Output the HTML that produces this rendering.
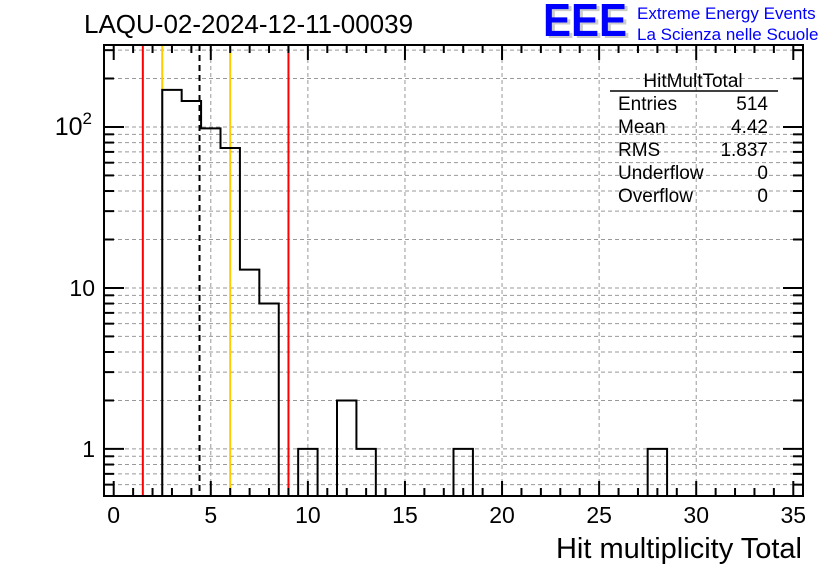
<!DOCTYPE html>
<html><head><meta charset="utf-8"><style>
body{margin:0;background:#fff;}
svg{display:block;font-family:"Liberation Sans",sans-serif;}
</style></head><body>
<svg id="c" width="836" height="572">
<text x="84" y="33" font-size="26">LAQU-02-2024-12-11-00039</text>
<g>
<text x="546" y="38" font-size="46" font-weight="bold" fill="#ccc" textLength="84" lengthAdjust="spacingAndGlyphs">EEE</text>
<text x="543" y="36" font-size="46" font-weight="bold" fill="#0000ff" textLength="84" lengthAdjust="spacingAndGlyphs">EEE</text>
<text x="637" y="19" font-size="17" fill="#0000ff">Extreme Energy Events</text>
<text x="637" y="40" font-size="17" fill="#0000ff">La Scienza nelle Scuole</text>
</g>
<g id="grid"></g>
<g id="marks"></g>
<rect x="104" y="45" width="699" height="451" fill="none" stroke="#000" stroke-width="2"/>
<g id="axes"></g>
<text x="802" y="558" font-size="29" text-anchor="end">Hit multiplicity Total</text>
<g font-size="19">
<text x="693" y="87" text-anchor="middle">HitMultTotal</text>
<line x1="610" y1="91" x2="778" y2="91" stroke="#000" stroke-width="1.5"/>
<text x="618" y="110">Entries</text><text x="768" y="110" text-anchor="end">514</text>
<text x="618" y="133">Mean</text><text x="768" y="133" text-anchor="end">4.42</text>
<text x="618" y="156">RMS</text><text x="768" y="156" text-anchor="end">1.837</text>
<text x="618" y="179">Underflow</text><text x="768" y="179" text-anchor="end">0</text>
<text x="618" y="202">Overflow</text><text x="768" y="202" text-anchor="end">0</text>
</g>
</svg>
<script>
const binCenters=[3,4,5,6,7,8,9,10,11,12,13,14,15,16,17,18,19,20,21,22,23,24,25,26,27,28,29];
const counts=[170,145,98,74,13,8,0,1,0,2,1,0,0,0,0,1,0,0,0,0,0,0,0,0,0,1,0];
const xTicks=[0,5,10,15,20,25,30,35];
const yTickVals=[1,10,100];
const yTickLabels=["1","10","10²"];
const redLines=[1.5,9.0];
const orangeLines=[2.5,6.0];
const meanLine=[4.42];
const NS="http://www.w3.org/2000/svg";
const X0=104,X1=803,Y0=45,Y1=496,xmin=-0.5,xmax=35.5,ymin=Math.log10(0.51),ymax=Math.log10(323);
const sx=v=>X0+(v-xmin)/(xmax-xmin)*(X1-X0);
const sy=v=>Y1-(Math.log10(v)-ymin)/(ymax-ymin)*(Y1-Y0);
function mk(t,a,p){const e=document.createElementNS(NS,t);for(const k in a)e.setAttribute(k,a[k]);p.appendChild(e);return e;}
const grid=document.getElementById('grid'),marks=document.getElementById('marks'),axes=document.getElementById('axes');
for(const t of xTicks){if(t<=0||t>=35)continue;const l=mk('line',{x1:sx(t),x2:sx(t),y1:Y0,y2:Y1,stroke:'#999','stroke-dasharray':'4,3','stroke-width':1},grid);
}
for(let d=0.1;d<=100;d*=10){for(let m=1;m<10;m++){const v=Math.round(d*m*1000)/1000;if(v<0.51||v>323)continue;
const l=mk('line',{x1:X0,x2:X1,y1:sy(v),y2:sy(v),stroke:'#999','stroke-dasharray':'4,3','stroke-width':1},grid);

const tl=(m===1)?20:10;
const t1=mk('line',{x1:X0,x2:X0+tl,y1:sy(v),y2:sy(v),stroke:'#000','stroke-width':2},axes);

const t2=mk('line',{x1:X1,x2:X1-tl,y1:sy(v),y2:sy(v),stroke:'#000','stroke-width':2},axes);
}}
for(let v=0;v<=35;v++){const tl=(v%5===0)?15:8;
const a=mk('line',{x1:sx(v),x2:sx(v),y1:Y1,y2:Y1-tl,stroke:'#000','stroke-width':2},axes);

const b=mk('line',{x1:sx(v),x2:sx(v),y1:Y0,y2:Y0+tl,stroke:'#000','stroke-width':2},axes);
}
xTicks.forEach(t=>{const e=mk('text',{x:sx(t),y:523,'font-size':23,'text-anchor':'middle'},axes);e.textContent=t;
});
yTickVals.forEach((v,i)=>{const e=mk('text',{x:95,y:sy(v)+8,'font-size':23,'text-anchor':'end'},axes);
if(i===2){e.setAttribute('x',92);e.setAttribute('font-size',25);e.textContent='10';const s=mk('tspan',{dy:-11,'font-size':17},e);s.textContent='2';}else e.textContent=yTickLabels[i];
});
redLines.forEach(v=>{const l=mk('line',{x1:sx(v),x2:sx(v),y1:Y0,y2:Y1,stroke:'#ff0000','stroke-width':2},marks);
});
orangeLines.forEach(v=>{const l=mk('line',{x1:sx(v),x2:sx(v),y1:Y0,y2:Y1,stroke:'#ffcc00','stroke-width':2},marks);
});
let d='';let first=true;
binCenters.forEach((c,i)=>{const lo=c-0.5,hi=c+0.5;const y=counts[i]>0?sy(counts[i]):Y1;
if(first){d+=`M${sx(lo)},${Y1} L${sx(lo)},${y}`;first=false;}else d+=` L${sx(lo)},${y}`;d+=` L${sx(hi)},${y}`;});
d+=` L${sx(binCenters[binCenters.length-1]+0.5)},${Y1}`;
const h=mk('path',{d:d,fill:'none',stroke:'#000','stroke-width':2},marks);

meanLine.forEach(v=>{const l=mk('line',{x1:sx(v),x2:sx(v),y1:Y0,y2:Y1,stroke:'#000','stroke-width':2,'stroke-dasharray':'6,4'},marks);
});
</script>
</body></html>
